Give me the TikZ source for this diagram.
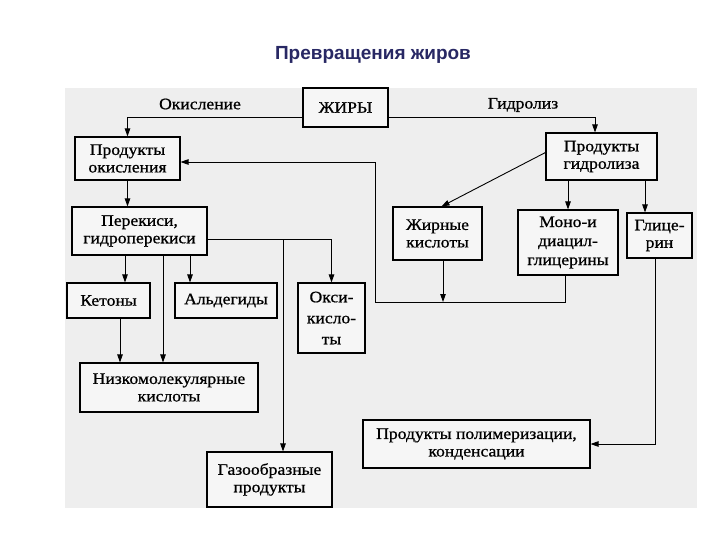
\documentclass[tikz,border=0pt]{standalone}
\usepackage{fontspec}
\setmainfont[FakeStretch=1.1,FakeBold=0.8]{Liberation Serif}
\newfontfamily\titlefont{Liberation Sans}
\usetikzlibrary{arrows.meta}
\definecolor{navy}{RGB}{40,40,100}
\definecolor{bgscan}{RGB}{238,238,238}
\begin{document}
\begin{tikzpicture}[x=1pt,y=-1pt,
  box/.style={draw, line width=1.1pt, align=center, inner sep=0pt, fill=white!50!bgscan,
    font=\fontsize{16}{17.5}\selectfont},
  arr/.style={line width=0.9pt, -{Triangle[length=8pt,width=5.5pt]}},
  lbl/.style={font=\fontsize{16}{17.5}\selectfont, inner sep=0pt}]
\useasboundingbox (0,0) rectangle (720,540);
\fill[bgscan] (65,88) rectangle (697,508);

\node[font=\titlefont\bfseries\fontsize{19}{22}\selectfont, text=navy] (title) at (373,55) {Превращения жиров};

% top
\node[box, minimum width=85pt, minimum height=39pt] (fat) at (345.5,107.5) {ЖИРЫ};
\node[box, minimum width=105pt, minimum height=43pt] (pox) at (127.5,158.5) {Продукты\\окисления};
\node[box, minimum width=111pt, minimum height=47pt] (phyd) at (601.5,156.5) {Продукты\\гидролиза};
\node[lbl] (lox) at (200,104) {Окисление};
\node[lbl] (lhy) at (523,105) {Гидролиз};

% left branch
\node[box, minimum width=135pt, minimum height=48pt] (per) at (139.5,231) {Перекиси,\\гидроперекиси};
\node[box, minimum width=83pt, minimum height=35pt] (ket) at (108.5,300.5) {Кетоны};
\node[box, minimum width=102pt, minimum height=35pt] (ald) at (226,300.5) {Альдегиды};
\node[box, minimum width=67pt, minimum height=70pt, font=\fontsize{16}{21}\selectfont] (oxy) at (331.5,318) {Окси-\\кисло-\\ты};
\node[box, minimum width=178pt, minimum height=49pt] (low) at (169,387.5) {Низкомолекулярные\\кислоты};
\node[box, minimum width=125pt, minimum height=55pt] (gas) at (269.5,479.5) {Газообразные\\продукты};

% right branch
\node[box, minimum width=89pt, minimum height=53pt] (fa) at (437.5,233.5) {Жирные\\кислоты};
\node[box, minimum width=100pt, minimum height=65pt, font=\fontsize{16}{19}\selectfont] (mono) at (568,242.5) {Моно-и\\диацил-\\глицерины};
\node[box, minimum width=65pt, minimum height=45pt] (gly) at (659.5,235.5) {Глице-\\рин};
\node[box, minimum width=227pt, minimum height=48pt] (poly) at (476.5,444) {Продукты полимеризации,\\конденсации};

% helper coordinates
\coordinate (fw) at ([yshift=-9.5pt]fat.west);
\coordinate (fe) at ([yshift=-9.5pt]fat.east);
\coordinate (pe) at ([yshift=-8pt]per.east);
\coordinate (gasin) at ([xshift=13.5pt]gas.north);
\coordinate (r1) at (375,302);
\coordinate (r2) at (375,162);
\coordinate (j) at (443,302);

% connectors top
\draw[arr] (fw) -| (pox.north);
\draw[arr] (fe) -| ([xshift=-6.5pt]phyd.north);

% left
\draw[arr] (pox.south) -- (pox.south |- per.north);
\draw[arr] ([xshift=16.5pt]ket.north |- per.south) -- ([xshift=16.5pt]ket.north);
\draw[arr] ([xshift=-36pt]ald.north |- per.south) -- ([xshift=-36pt]ald.north);
\draw[arr] ([xshift=-6pt]low.north |- per.south) -- ([xshift=-6pt]low.north);
\draw[arr] ([xshift=11.5pt]ket.south) -- ([xshift=11.5pt]ket.south |- low.north);
\draw[arr] (pe) -| (oxy.north);
\draw[arr] (gasin |- pe) -- (gasin);

% right
\draw[arr] ([yshift=4pt]phyd.west) -- ([xshift=4pt]fa.north);
\draw[arr] (mono.north |- phyd.south) -- (mono.north);
\draw[arr] ([xshift=-14.5pt]gly.north |- phyd.south) -- ([xshift=-14.5pt]gly.north);
\draw[arr] ([xshift=5.5pt]fa.south) -- (j);
\draw[arr] ([xshift=-3pt]mono.south) |- (r1) -- (r2) -- ([yshift=-3.5pt]pox.east);
\draw[arr] ([xshift=-4.5pt]gly.south) |- (poly.east);
\end{tikzpicture}
\end{document}
